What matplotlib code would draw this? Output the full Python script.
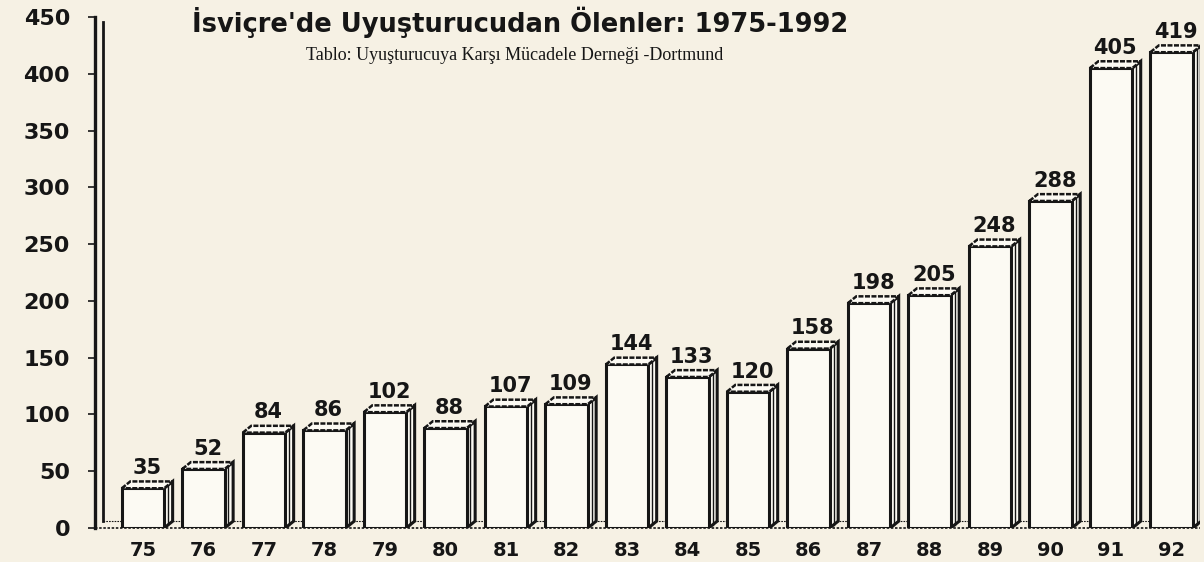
import matplotlib.pyplot as plt
from matplotlib.patches import Polygon

years = ['75', '76', '77', '78', '79', '80', '81', '82', '83',
         '84', '85', '86', '87', '88', '89', '90', '91', '92']
deaths = [35, 52, 84, 86, 102, 88, 107, 109, 144,
          133, 120, 158, 198, 205, 248, 288, 405, 419]
yticks = [0, 50, 100, 150, 200, 250, 300, 350, 400, 450]

title = "İsviçre'de Uyuşturucudan Ölenler: 1975-1992"
source = "Tablo: Uyuşturucuya Karşı Mücadele Derneği -Dortmund"

bg = '#f6f1e4'
ink = '#161616'
face = '#fcfaf3'

fig = plt.figure(figsize=(12.04, 5.62), dpi=100)
fig.patch.set_facecolor(bg)
ax = fig.add_axes([95 / 1204, 1 - 528 / 562, 1105 / 1204, 511 / 562])
ax.set_facecolor(bg)

x0, x1 = -0.793, 17.47
ax.set_xlim(x0, x1)
ax.set_ylim(0, 450)

# bar geometry (3D look)
w = 0.7
dx, dy = 0.14, 6

for i, v in enumerate(deaths):
    l, r = i - w / 2, i + w / 2
    front = Polygon([(l, 0), (r, 0), (r, v), (l, v)], closed=True,
                    facecolor=face, edgecolor=ink, lw=2.2, zorder=3)
    top = Polygon([(l, v), (l + dx, v + dy), (r + dx, v + dy), (r, v)], closed=True,
                  facecolor=face, edgecolor=ink, lw=1.8, ls=(0, (2, 0.6)), zorder=3)
    side = Polygon([(r, 0), (r + dx, dy), (r + dx, v + dy), (r, v)], closed=True,
                   facecolor=face, edgecolor=ink, lw=2.2, zorder=3)
    ax.add_patch(side)
    ax.add_patch(front)
    ax.add_patch(top)
    # inner edge on the side face
    ax.plot([r + dx * 0.45, r + dx * 0.45], [dy * 0.5, v + dy * 0.5],
            color=ink, lw=1.0, zorder=4)
    ax.text(i + dx / 2, v + dy + 3, str(v), ha='center', va='bottom',
            fontsize=15, fontweight='heavy', color=ink, zorder=5)

# floor
ax.plot([x0, x1], [0, 0], color=ink, lw=1.2, ls=(0, (1.5, 1)), clip_on=False, zorder=2)
ax.plot([x0 + 0.13, x1], [dy, dy], color=ink, lw=0.8, ls=(0, (1.5, 1)), zorder=2)

# wall
ax.plot([x0, x0], [0, 450], color=ink, lw=2.4, clip_on=False, zorder=2)
ax.plot([x0 + 0.13, x0 + 0.13], [dy, 446], color=ink, lw=2.0, clip_on=False, zorder=2)

for s in ax.spines.values():
    s.set_visible(False)

ax.set_yticks(yticks)
ax.set_yticklabels([str(t) for t in yticks], fontsize=16, fontweight='heavy', color=ink)
ax.tick_params(axis='y', length=5, width=1.2, color=ink, pad=13)

ax.set_xticks(range(len(years)))
ax.set_xticklabels(years, fontsize=14, fontweight='bold', color=ink)
ax.tick_params(axis='x', length=0, pad=9)

fig.text(520 / 1204, 1 - 22 / 562, title, ha='center', va='center',
         fontsize=18.5, fontweight='heavy', color=ink)
fig.text(515 / 1204, 1 - 55 / 562, source, ha='center', va='center',
         fontsize=13, family='Liberation Serif', color=ink)

fig.savefig('out.png', dpi=100, facecolor=bg)
